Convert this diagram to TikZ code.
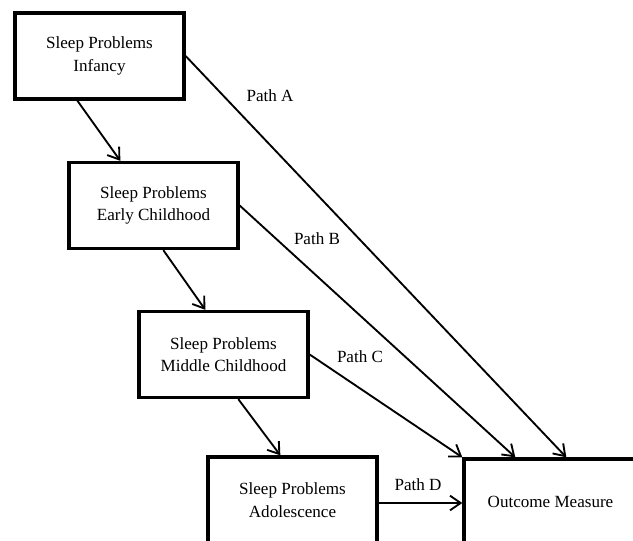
\documentclass[tikz,border=0pt]{standalone}
\usepackage{fontspec}
\setmainfont{Liberation Serif}
\usetikzlibrary{arrows.meta}
\tikzset{stage/.style={draw=black, line width=2.5pt, minimum width=169*0.75pt,
        minimum height=86*0.75pt, align=center, inner sep=0pt,
        font=\fontsize{12.8}{17}\selectfont},
    path arrow/.style={line width=1.4pt, -{Straight Barb[length=8pt,width=11pt,line width=1.4pt]}},
    path label/.style={font=\fontsize{12.8}{17}\selectfont}}

\begin{document}
\begin{tikzpicture}[x=0.75pt, y=-0.75pt]
    \useasboundingbox (0,0) rectangle (633,541);
    \clip (0,0) rectangle (633,541);
    % the four stages and the outcome
    \node[stage] (infancy) at (99.5,56)   {Sleep Problems\\Infancy};
    \node[stage] (early)   at (153.5,205.5) {Sleep Problems\\Early Childhood};
    \node[stage] (middle)  at (223.5,354.5) {Sleep Problems\\Middle Childhood};
    \node[stage] (adol)    at (292.5,500) {Sleep Problems\\Adolescence};
    \node[stage, minimum width=173*0.75pt] (outcome) at (550.5,502) {Outcome Measure};
    % arrows down the stages
    \draw[path arrow] ([xshift=64*0.75pt]infancy.south west) -- ([xshift=53*0.75pt]early.north west);
    \draw[path arrow] ([xshift=96*0.75pt]early.south west) -- ([xshift=68*0.75pt]middle.north west);
    \draw[path arrow] ([xshift=101*0.75pt]middle.south west) -- ([xshift=74*0.75pt]adol.north west);
    % paths to the outcome
    \draw[path arrow] (infancy.east) -- ([xshift=104*0.75pt]outcome.north west);
    \draw[path arrow] (early.east)   -- ([xshift=53*0.75pt]outcome.north west);
    \draw[path arrow] (middle.east)  -- (outcome.north west);
    \draw[path arrow] (adol.east |- 0,503) -- (outcome.west |- 0,503);
    \node[path label] (labA) at (270,96)  {Path A};
    \node[path label] (labB) at (317,239) {Path B};
    \node[path label] (labC) at (360,357) {Path C};
    \node[path label] (labD) at (418,485) {Path D};
\end{tikzpicture}
\end{document}
